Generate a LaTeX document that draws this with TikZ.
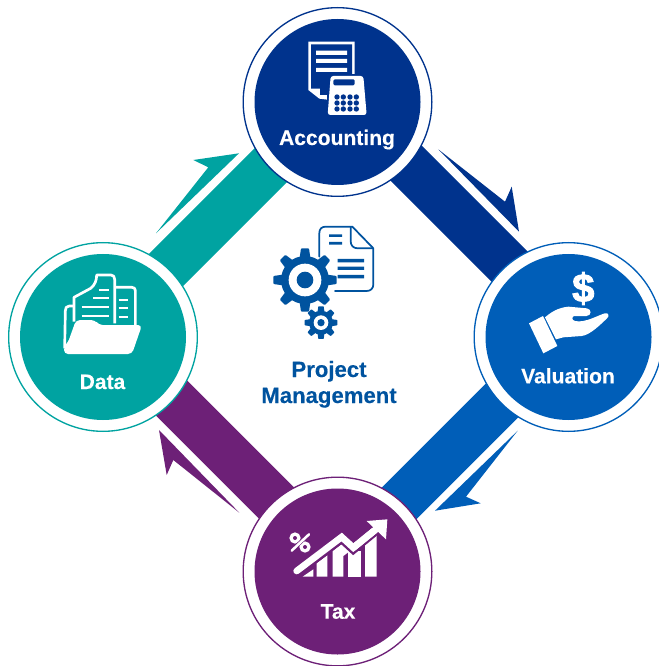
\documentclass[tikz,border=0pt]{standalone}
\usepackage{fontspec}
\setmainfont[BoldFeatures={FakeBold=0.25}]{Liberation Sans}
\newfontfamily\dollarfont[BoldFeatures={FakeBold=2.2}]{Liberation Sans}
\usetikzlibrary{backgrounds}
\definecolor{cnavy}{HTML}{00338D}
\definecolor{cblue}{HTML}{005EB8}
\definecolor{cteal}{HTML}{00A3A1}
\definecolor{cpurple}{HTML}{6D2077}
\definecolor{cpm}{HTML}{00539F}
\tikzset{
  ringnode/.style={circle,fill=white,draw=#1,line width=1pt,minimum size=141.5pt,inner sep=0pt,outer sep=0pt},
  discnode/.style={circle,fill=#1,minimum size=124.5pt,inner sep=0pt,outer sep=0pt},
  bar/.style={line width=35.25pt,draw=#1},
  lab/.style={text=white,anchor=base,inner sep=0pt,font=\bfseries\fontsize{15.8}{18}\selectfont},
  pmlab/.style={text=cpm,anchor=base,inner sep=0pt,font=\bfseries\fontsize{16.6}{18}\selectfont},
}
\begin{document}
\begin{tikzpicture}[x=0.75pt,y=-0.75pt]
\useasboundingbox (0,0) rectangle (658,666);
% circles
\node[ringnode=cnavy] (acc) at (337.5,102) {};
\node[discnode=cnavy] (accd) at (337.5,102) {};
\node[ringnode=cblue] (val) at (568.5,337) {};
\node[discnode=cblue] (vald) at (568.5,337) {};
\node[ringnode=cpurple] (tax) at (337.5,571.5) {};
\node[discnode=cpurple] (taxd) at (337.5,571.5) {};
\node[ringnode=cteal] (dat) at (103,337) {};
\node[discnode=cteal] (datd) at (103,337) {};
% bars
\begin{scope}[on background layer]
\draw[bar=cnavy] ([shift={(3.75,-3.75)}]acc.center) -- ([shift={(5.75,-5.75)}]val.center);
\draw[bar=cblue] ([shift={(-1.5,-1.5)}]val.center) -- ([shift={(-3.25,-3.25)}]tax.center);
\draw[bar=cpurple] ([shift={(3.75,-3.75)}]tax.center) -- ([shift={(3.75,-3.75)}]dat.center);
\draw[bar=cteal] ([shift={(-2,-2)}]dat.center) -- ([shift={(-1.75,-1.75)}]acc.center);
\end{scope}
% harpoons
\fill[cteal] (156,233.3) -- (239,153.3) -- (193.3,160) -- (208.3,167.3) -- cycle;
\fill[cnavy] (438.3,149.3) -- (519,231.7) -- (511.7,186.7) -- (505,201.7) -- cycle;
\fill[cblue] (517.7,430.7) -- (435,510.7) -- (480.7,503.3) -- (466,496.7) -- cycle;
\fill[cpurple] (239.3,512.7) -- (159,430) -- (166.7,475) -- (173.3,460) -- cycle;
% labels
\node[lab] (tacc) at (337,145) {Accounting};
\node[lab] (tval) at (568,383.3) {Valuation};
\node[lab] (ttax) at (338,618.7) {Tax};
\node[lab] (tdat) at (102.5,389) {Data};
\node[pmlab] (tp1) at (329,377) {Project};
\node[pmlab] (tp2) at (329,403) {Management};
% accounting icon
\begin{scope}[shift={(240,0)},scale=1/3]
\fill[white] (205,125) -- (344,125) -- (344,235) -- (270,300) -- (238,296) -- (205,270) -- cycle;
\fill[cnavy] (213,133) -- (336,133) -- (336,235) -- (265,285) -- (240,285) -- (240,266) -- (213,266) -- cycle;
\fill[white] (228,152) rectangle (321,165) (228,177) rectangle (321,189) (228,204) rectangle (321,216);
\fill[cnavy] (262,222) rectangle (385,352);
\fill[white,rounded corners=2pt] (272,228) -- (370,228) -- (380,345) -- (263,345) -- cycle;
\fill[cnavy,rounded corners=1pt] (280,238) rectangle (344,256);
\foreach \kx in {291,310,330,349} \foreach \ky in {291,309,327} \fill[cnavy] (\kx,\ky) circle (8);
\end{scope}
% data icon
\begin{scope}[shift={(0,240)},scale=1/3]
\draw[white,line width=2pt,line join=round] (222,245) -- (222,172) -- (272,145) .. controls (285,135) and (290,120) .. (290,105) -- (333,105) .. controls (340,105) and (344,110) .. (344,118) -- (344,250);
\draw[white,line width=2pt,line join=round] (346,142) -- (396,142) .. controls (403,142) and (406,146) .. (406,152) -- (406,255);
\draw[white,line width=2pt,line join=round] (219,198) -- (208,198) .. controls (199,198) and (196,204) .. (196,212) -- (194,325);
\draw[white,line width=1.7pt] (297,150) -- (326,150) (280,175) -- (326,175) (245,201) -- (326,201) (245,227) -- (326,227);
\draw[white,line width=1.7pt] (356,180) -- (385,180) (356,205) -- (385,205) (356,232) -- (385,232);
\fill[white,rounded corners=3pt] (192,342) -- (192,318) -- (203,310) -- (228,240) -- (285,240) -- (296,255) -- (426,255) -- (396,342) -- cycle;
\end{scope}
% valuation icon
\node[text=white,inner sep=0pt,font=\dollarfont\bfseries\fontsize{30}{30}\selectfont] (dollar) at (583.3,288.5) {\$};
\begin{scope}[shift={(470,240)},scale=1/3]
\fill[white] (177,250) -- (219,228) -- (262,318) -- (220,340) -- cycle;
\fill[white] (225,232) .. controls (245,215) and (265,203) .. (295,200) -- (350,205) .. controls (365,207) and (366,226) .. (350,228) -- (312,228) .. controls (305,232) and (305,240) .. (315,243) .. controls (345,250) and (385,225) .. (405,220) .. controls (416,218) and (420,228) .. (410,236) .. controls (390,255) and (360,285) .. (335,288) -- (280,292) -- (258,298) -- cycle;
\end{scope}
% tax icon
\begin{scope}[shift={(240,476)},scale=1/3]
\fill[white] (188,302) -- (220,280) -- (220,302) -- cycle;
\fill[white] (230,302) -- (230,262) -- (262,238) -- (262,302) -- cycle;
\fill[white] (278,302) -- (278,225) -- (310,200) -- (330,225) -- (310,240) -- (310,302) -- cycle;
\fill[white] (325,302) -- (325,225) -- (362,225) -- (362,302) -- cycle;
\fill[white] (375,302) -- (375,205) -- (410,175) -- (410,302) -- cycle;
\draw[cpurple,line width=8.5pt,line join=miter] (170,285) -- (305,183) -- (340,215) -- (425,145);
\draw[white,line width=5pt,line cap=round,line join=miter] (170,285) -- (305,183) -- (340,215) -- (420,150);
\fill[cpurple] (370,130) -- (445,122) -- (445,200) -- cycle;
\draw[white,line width=5pt] (340,215) -- (420,150);
\fill[white] (380,135) -- (442,130) -- (438,190) -- cycle;
% percent
\fill[white] (165,186) circle (17) (195,213) circle (17);
\fill[cpurple] (165,186) circle (6) (195,213) circle (6);
\draw[cpurple,line width=2.8pt] (150,228) -- (212,170);
\draw[white,line width=1.9pt,line cap=round] (155,224) -- (207,175);
\end{scope}
% project management icon
\begin{scope}[shift={(260,215)},scale=1/3]
\draw[cpm,line width=1.3pt,line join=round,line cap=round] (225,228) -- (320,228) .. controls (332,228) and (340,220) .. (340,208) -- (340,100) -- (277,35) -- (197,35) .. controls (185,35) and (178,42) .. (178,54) -- (178,125);
\draw[cpm,line width=1.3pt] (272,35) -- (272,78) .. controls (272,92) and (280,100) .. (294,100) -- (340,100);
\fill[cpm] (207,58) rectangle (246,66) (207,81) rectangle (246,89);
\fill[cpm] (233,132) rectangle (312,142) (233,155) rectangle (312,165) (233,180) rectangle (312,190);
\fill[cpm] (135,195) circle (72);
\foreach \a in {0,45,...,315}
  \fill[cpm,rotate around={\a:(135,195)},rounded corners=0.6pt] (118,135) -- (123,100) -- (147,100) -- (152,135) -- cycle;
\fill[white] (135,195) circle (49);
\fill[cpm] (135,195) circle (25);
\fill[cpm] (183,323) circle (36);
\foreach \a in {0,45,...,315}
  \fill[cpm,rotate around={\a:(183,323)},rounded corners=0.4pt] (172,295) -- (175,274) -- (191,274) -- (194,295) -- cycle;
\fill[white] (183,323) circle (22);
\fill[cpm] (183,323) circle (11);
\end{scope}
\end{tikzpicture}
\end{document}
